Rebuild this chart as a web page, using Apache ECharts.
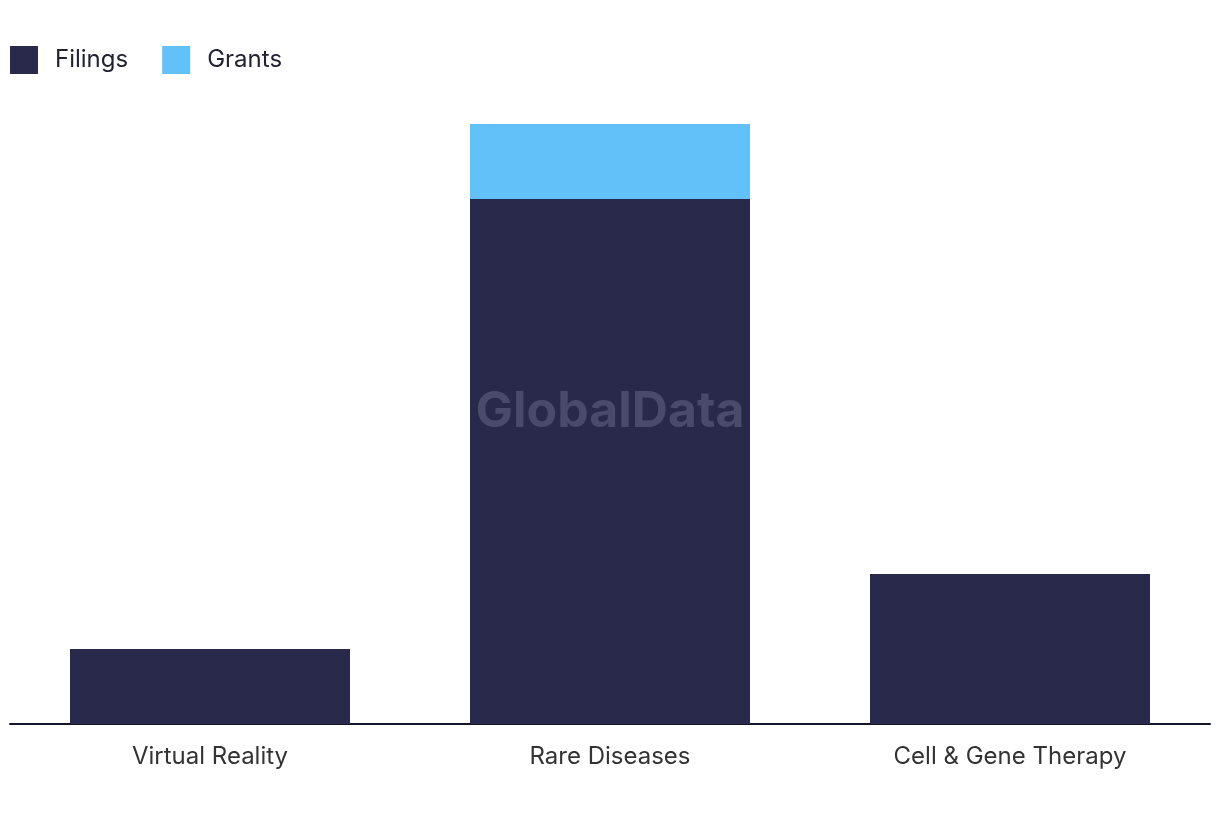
<!DOCTYPE html>
<html><head><meta charset="utf-8">
<script src="https://cdn.jsdelivr.net/npm/echarts@6/dist/echarts.min.js"></script>
<style>html,body{margin:0;padding:0;background:#fff}#c{width:1220px;height:820px}</style>
</head><body><div id="c"></div>
<script>
const categories = ["Virtual Reality", "Rare Diseases", "Cell & Gene Therapy"];
const filings = [1, 7, 2];
const grants = [0, 1, 0];

const chart = echarts.init(document.getElementById('c'));
chart.setOption({
  animation: false,
  legend: {
    left: 10, top: 46, padding: 0, itemWidth: 28, itemHeight: 28, itemGap: 34,
    icon: 'rect',
    textStyle: { fontFamily: 'Inter, Roboto, sans-serif', fontSize: 24, color: '#222233', padding: [0, 0, 0, 12] },
    data: ['Filings', 'Grants']
  },
  grid: { left: 10, right: 10, top: 124, bottom: 96, containLabel: false },
  xAxis: {
    type: 'category', data: categories,
    axisLine: { show: true, lineStyle: { color: '#15152b', width: 2 } },
    axisTick: { show: false },
    axisLabel: { fontFamily: 'Inter, Roboto, sans-serif', fontSize: 24, color: '#333333', margin: 21 }
  },
  yAxis: { type: 'value', min: 0, max: 8, show: false, splitLine: { show: false } },
  series: [
    { name: 'Filings', type: 'bar', stack: 'a', data: filings, barWidth: '70%', itemStyle: { color: '#29294b' } },
    { name: 'Grants', type: 'bar', stack: 'a', data: grants, barWidth: '70%', itemStyle: { color: '#62c1f9' } }
  ],
  graphic: [{
    type: 'text', left: 'center', top: 387, z: 100,
    style: { text: 'GlobalData', font: 'bold 50px Inter, Roboto, sans-serif', fill: '#4a4a6c' }
  }]
});
</script></body></html>
